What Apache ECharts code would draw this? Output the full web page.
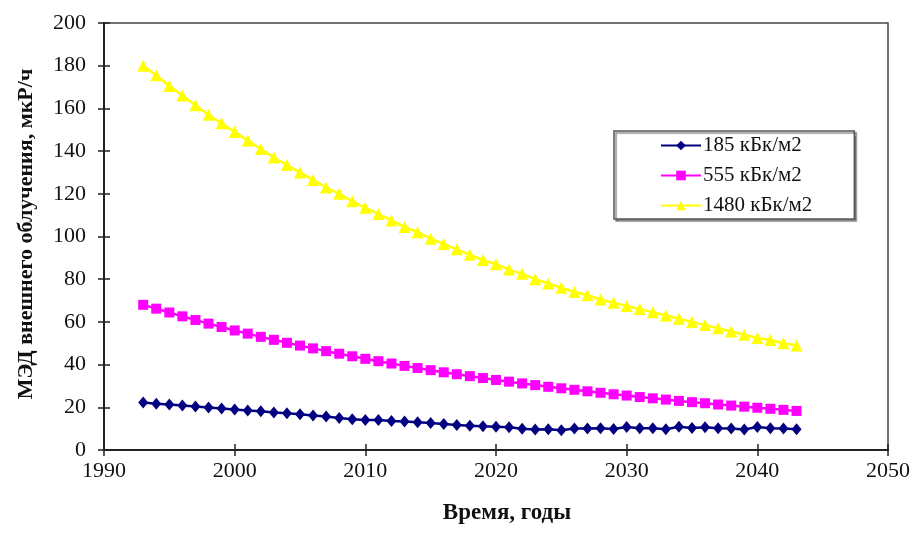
<!DOCTYPE html>
<html>
<head>
<meta charset="utf-8">
<script src="https://cdn.jsdelivr.net/npm/echarts@6/dist/echarts.min.js"></script>
<style>
  html, body { margin: 0; padding: 0; background: #fff; }
  #chart { width: 913px; height: 534px; }
</style>
</head>
<body>
<div id="chart"></div>
<script>
// Годы расчёта (ежегодно, 1993–2043)
const years = [
  1993, 1994, 1995, 1996, 1997, 1998, 1999, 2000, 2001, 2002,
  2003, 2004, 2005, 2006, 2007, 2008, 2009, 2010, 2011, 2012,
  2013, 2014, 2015, 2016, 2017, 2018, 2019, 2020, 2021, 2022,
  2023, 2024, 2025, 2026, 2027, 2028, 2029, 2030, 2031, 2032,
  2033, 2034, 2035, 2036, 2037, 2038, 2039, 2040, 2041, 2042, 2043
];

// МЭД, мкР/ч — плотность загрязнения 185 кБк/м2
const dose185 = [
  22.2, 21.7, 21.3, 20.8, 20.4, 19.9, 19.4, 19.0, 18.5, 18.1,
  17.6, 17.2, 16.7, 16.2, 15.7, 15.0, 14.4, 14.1, 14.0, 13.6,
  13.3, 13.0, 12.6, 12.2, 11.7, 11.4, 11.1, 10.9, 10.7, 9.9,
  9.6, 9.7, 9.2, 10.1, 10.1, 10.2, 9.8, 10.8, 10.2, 10.2,
  9.7, 10.9, 10.3, 10.7, 10.2, 10.1, 9.6, 10.8, 10.2, 10.1, 9.7
];

// МЭД, мкР/ч — 555 кБк/м2
const dose555 = [
  68.0, 66.2, 64.4, 62.6, 60.9, 59.2, 57.6, 56.0, 54.5, 53.0,
  51.6, 50.2, 48.9, 47.6, 46.3, 45.1, 43.9, 42.7, 41.6, 40.5,
  39.4, 38.4, 37.4, 36.4, 35.5, 34.6, 33.7, 32.8, 32.0, 31.2,
  30.4, 29.6, 28.9, 28.2, 27.5, 26.8, 26.1, 25.5, 24.8, 24.2,
  23.6, 23.0, 22.4, 21.9, 21.3, 20.8, 20.3, 19.8, 19.3, 18.8, 18.3
];

// МЭД, мкР/ч — 1480 кБк/м2
const dose1480 = [
  180.0, 175.5, 170.5, 166.0, 161.5, 157.0, 153.0, 149.0, 145.0, 141.0,
  137.0, 133.5, 130.0, 126.5, 123.0, 120.0, 116.5, 113.5, 110.5, 107.5,
  104.5, 102.0, 99.0, 96.5, 94.0, 91.5, 89.0, 87.0, 84.5, 82.5,
  80.0, 78.0, 76.0, 74.0, 72.5, 70.5, 69.0, 67.5, 66.0, 64.5,
  63.0, 61.5, 60.0, 58.5, 57.0, 55.5, 54.0, 52.5, 51.5, 50.0, 49.0
];

const seriesNames = ['185 кБк/м2', '555 кБк/м2', '1480 кБк/м2'];
const xTicks = [1990, 2000, 2010, 2020, 2030, 2040, 2050];
const yTicks = [0, 20, 40, 60, 80, 100, 120, 140, 160, 180, 200];

const pairs = vals => years.map((y, i) => [y, vals[i]]);

const FONT = '"Liberation Serif", "Times New Roman", serif';
const AXIS = '#222';

const grid = { left: 104, top: 23, right: 23, bottom: 84, show: true,
  borderColor: '#444', borderWidth: 1.5, backgroundColor: 'transparent' };

const baseX = {
  type: 'value', min: xTicks[0], max: xTicks[xTicks.length - 1], interval: 10,
  splitLine: { show: false },
  axisLine: { show: true, lineStyle: { color: AXIS, width: 2 } }
};
const baseY = {
  type: 'value', min: yTicks[0], max: yTicks[yTicks.length - 1], interval: 20,
  splitLine: { show: false },
  axisLine: { show: true, lineStyle: { color: AXIS, width: 2 } }
};

const chart = echarts.init(document.getElementById('chart'), null, { renderer: 'canvas' });

chart.setOption({
  backgroundColor: '#fff',
  animation: false,
  grid: grid,
  legend: {
    orient: 'vertical',
    left: 614, top: 131,
    data: seriesNames,
    itemWidth: 40, itemHeight: 12, itemGap: 9,
    padding: [4, 42, 3, 46],
    borderColor: '#555', borderWidth: 1.5,
    shadowColor: 'rgba(0,0,0,0.45)', shadowOffsetX: 2, shadowOffsetY: 2, shadowBlur: 1,
    backgroundColor: '#fff',
    textStyle: { fontFamily: FONT, fontSize: 21, color: '#111', padding: [0, 0, 0, -3] }
  },
  xAxis: [
    Object.assign({}, baseX, {
      axisTick: { show: true, inside: false, length: 6, lineStyle: { color: AXIS, width: 1.5 } },
      axisLabel: { fontFamily: FONT, fontSize: 22, color: '#111', margin: 10,
        formatter: v => String(v) }
    }),
    Object.assign({}, baseX, {
      position: 'bottom',
      axisTick: { show: true, inside: true, length: 6, lineStyle: { color: AXIS, width: 1.5 } },
      axisLabel: { show: false }
    })
  ],
  yAxis: [
    Object.assign({}, baseY, {
      axisTick: { show: true, inside: false, length: 6, lineStyle: { color: AXIS, width: 1.5 } },
      axisLabel: { fontFamily: FONT, fontSize: 22, color: '#111', margin: 18,
        formatter: v => String(v) }
    }),
    Object.assign({}, baseY, {
      position: 'left',
      axisTick: { show: true, inside: true, length: 6, lineStyle: { color: AXIS, width: 1.5 } },
      axisLabel: { show: false }
    })
  ],
  series: [
    {
      name: seriesNames[0], type: 'line', data: pairs(dose185),
      symbol: 'diamond', symbolSize: [10, 12], showAllSymbol: true,
      lineStyle: { color: '#000080', width: 2.5 },
      itemStyle: { color: '#000080' }
    },
    {
      name: seriesNames[1], type: 'line', data: pairs(dose555),
      symbol: 'rect', symbolSize: 10, showAllSymbol: true,
      lineStyle: { color: '#ff00ff', width: 2.5 },
      itemStyle: { color: '#ff00ff' }
    },
    {
      name: seriesNames[2], type: 'line', data: pairs(dose1480),
      symbol: 'triangle', symbolSize: 12, showAllSymbol: true,
      lineStyle: { color: '#ffff00', width: 2.5 },
      itemStyle: { color: '#ffff00' }
    }
  ],
  graphic: [
    {
      type: 'text', x: 507, y: 513,
      style: { text: 'Время, годы', font: 'bold 23px ' + FONT, fill: '#111',
        textAlign: 'center', textVerticalAlign: 'middle' }
    },
    {
      type: 'text', x: 26, y: 234, rotation: Math.PI / 2,
      style: { text: 'МЭД внешнего облучения, мкР/ч', font: 'bold 22px ' + FONT, fill: '#111',
        textAlign: 'center', textVerticalAlign: 'middle' }
    }
  ]
});
</script>
</body>
</html>
